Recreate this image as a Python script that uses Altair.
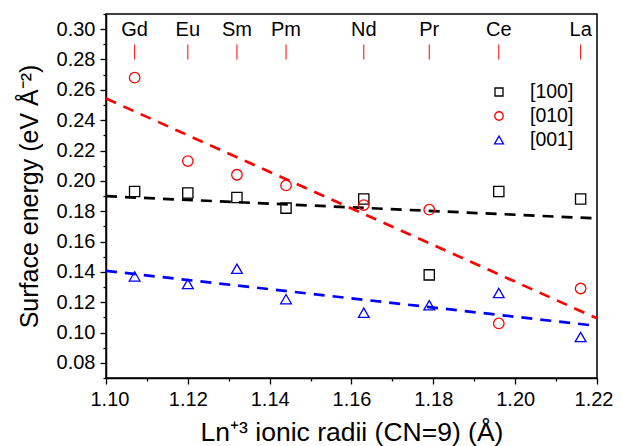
import altair as alt
import pandas as pd

elements = ["Gd", "Eu", "Sm", "Pm", "Nd", "Pr", "Ce", "La"]
radii = [1.107, 1.120, 1.132, 1.144, 1.163, 1.179, 1.196, 1.216]
e100 = [0.193, 0.192, 0.189, 0.182, 0.188, 0.138, 0.193, 0.188]
e010 = [0.268, 0.213, 0.204, 0.197, 0.184, 0.181, 0.106, 0.129]
e001 = [0.137, 0.132, 0.142, 0.122, 0.113, 0.118, 0.126, 0.097]
series = ["[100]", "[010]", "[001]"]
colors = ["#000000", "#ff0000", "#0000ff"]
shapes = ["square", "circle", "triangle-up"]
x_ticks = [round(1.10 + 0.01 * i, 2) for i in range(13)]
y_ticks = [round(0.07 + 0.01 * i, 2) for i in range(25)]

rows = []
for name, vals in zip(series, [e100, e010, e001]):
    for el, r, v in zip(elements, radii, vals):
        rows.append({"series": name, "element": el, "r": r, "E": v})
df = pd.DataFrame(rows)
df_el = pd.DataFrame({"element": elements, "r": radii})
df_leg = pd.DataFrame({"series": series})

FONT = "Liberation Sans"

xscale = alt.Scale(domain=[1.10, 1.22], nice=False, zero=False)
yscale = alt.Scale(domain=[0.07, 0.31], nice=False, zero=False)
color_scale = alt.Scale(domain=series, range=colors)
shape_scale = alt.Scale(domain=series, range=shapes)
# legend rows placed by a point scale inside the plot area
leg_scale = alt.Scale(type="point", domain=series, range=[78, 126], padding=0)

major = "abs(round(datum.value*100) % 2) < 0.5"

xaxis = alt.Axis(
    values=x_ticks,
    labelExpr=f"{major} ? format(datum.value, '.2f') : ''",
    tickSize={"condition": {"test": major, "value": 6}, "value": 3},
    title="Ln⁺³ ionic radii (CN=9) (Å)",
    titleFontSize=26.5,
    titlePadding=10,
    labelFlush=True,
    labelFlushOffset=16,
    grid=False,
)
yaxis = alt.Axis(
    values=y_ticks,
    labelExpr=f"{major} ? format(datum.value, '.2f') : ''",
    tickSize={"condition": {"test": major, "value": 6}, "value": 3},
    title="Surface energy (eV Å⁻²)",
    titleFontSize=25,
    titlePadding=14,
    labelFlush=False,
    grid=False,
)

base = alt.Chart(df)

lines = base.transform_regression(
    "r", "E", groupby=["series"], extent=[1.10, 1.22]
).mark_line(strokeWidth=2.7, strokeDash=[11, 8], clip=True).encode(
    x=alt.X("r:Q", scale=xscale, axis=xaxis),
    y=alt.Y("E:Q", scale=yscale, axis=yaxis),
    color=alt.Color("series:N", scale=color_scale, legend=None),
    detail="series:N",
)

points = base.mark_point(filled=False, strokeWidth=1.3, opacity=1).encode(
    x=alt.X("r:Q", scale=xscale, axis=xaxis),
    y=alt.Y("E:Q", scale=yscale, axis=None),
    color=alt.Color("series:N", scale=color_scale, legend=None),
    shape=alt.Shape("series:N", scale=shape_scale, legend=None),
    size=alt.Size(
        "series:N",
        scale=alt.Scale(domain=series, range=[105, 115, 200]),
        legend=None,
    ),
)

leg_pts = alt.Chart(df_leg).mark_point(filled=False, strokeWidth=1.3, opacity=1).encode(
    x=alt.value(393),
    y=alt.Y("series:N", scale=leg_scale, axis=None),
    color=alt.Color("series:N", scale=color_scale, legend=None),
    shape=alt.Shape("series:N", scale=shape_scale, legend=None),
    size=alt.Size(
        "series:N",
        scale=alt.Scale(domain=series, range=[64, 80, 110]),
        legend=None,
    ),
)

leg_txt = alt.Chart(df_leg).mark_text(
    fontSize=19.5, font=FONT, color="#000000", baseline="middle", align="left"
).encode(
    x=alt.value(424),
    y=alt.Y("series:N", scale=leg_scale, axis=None),
    text="series:N",
)

el_text = alt.Chart(df_el).mark_text(
    fontSize=20, font=FONT, color="#000000", baseline="middle", align="center"
).encode(
    x=alt.X("r:Q", scale=xscale, axis=xaxis),
    y=alt.value(16),
    text="element:N",
)

el_ticks = alt.Chart(df_el).mark_rule(color="#ff0000", strokeWidth=1).encode(
    x=alt.X("r:Q", scale=xscale, axis=xaxis),
    y=alt.value(30.5),
    y2=alt.value(45.5),
)

chart = (
    alt.layer(lines, points, leg_pts, leg_txt, el_text, el_ticks)
    .resolve_scale(y="independent", size="independent")
    .properties(
        width=491,
        height=364,
        autosize=alt.AutoSizeParams(type="none"),
        padding={"left": 98, "top": 6, "right": 16, "bottom": 76},
    )
    .configure_view(stroke="#000000", strokeWidth=1.5)
    .configure_axis(
        domainColor="#000000",
        domainWidth=1.5,
        tickColor="#000000",
        tickWidth=1.3,
        labelFont=FONT,
        labelFontSize=20,
        labelColor="#000000",
        labelPadding=5,
        labelOverlap=False,
        titleFont=FONT,
        titleFontWeight="normal",
        titleColor="#000000",
    )
)

chart.save("out.html", embed_options={"renderer": "svg", "actions": False})
